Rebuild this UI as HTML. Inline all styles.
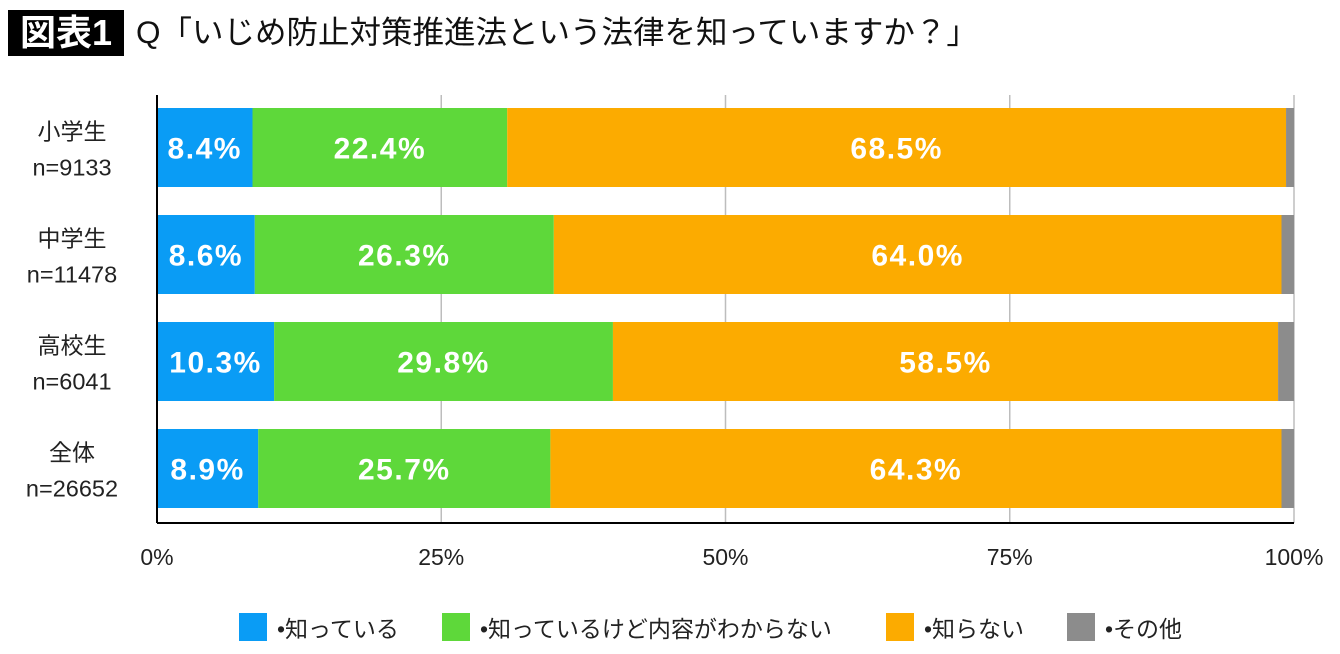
<!DOCTYPE html>
<html><head><meta charset="utf-8"><style>
body{margin:0;width:1340px;height:654px;background:#fff;overflow:hidden;font-family:"Liberation Sans","Noto Sans CJK JP",sans-serif}
#t{position:absolute;left:8px;top:10px;width:116px;height:46px;background:#000;color:#fff;font-size:36px;line-height:46px;text-align:center;font-weight:bold}
#q{position:absolute;left:136px;top:9px;font-size:31.5px;line-height:46px;color:#111;white-space:nowrap}
</style></head><body>
<div id="t">図表1</div>
<div id="q">Q「いじめ防止対策推進法という法律を知っていますか？」</div>
<svg id="c" width="1340" height="654" style="position:absolute;left:0;top:0"></svg>
<script>
const categories=["小学生","中学生","高校生","全体"];
const sampleSizes=["n=9133","n=11478","n=6041","n=26652"];
const know=[8.4,8.6,10.3,8.9];
const knowNoDetail=[22.4,26.3,29.8,25.7];
const dontKnow=[68.5,64.0,58.5,64.3];
const other=[0.7,1.1,1.4,1.1];
const ticks=[0,25,50,75,100];
const tickLabels=["0%","25%","50%","75%","100%"];
const seriesNames=["•知っている","•知っているけど内容がわからない","•知らない","•その他"];
const colors=["#0a9cf5","#5ed83a","#fcab00","#8c8c8c"];
const NS="http://www.w3.org/2000/svg",svg=document.getElementById('c');
const x0=157,x1=1294,y0=95,y1=523;
const X=v=>x0+(x1-x0)*v/100;
const bandH=(y1-y0)/categories.length;
function el(t,a,p){const e=document.createElementNS(NS,t);for(const k in a)e.setAttribute(k,a[k]);(p||svg).appendChild(e);return e;}
ticks.forEach((t,i)=>{if(t>0){const g=el('line',{x1:X(t),x2:X(t),y1:y0,y2:y1,stroke:'#bdbdbd','stroke-width':1.5});

}
const l=el('text',{x:X(t),y:565,'text-anchor':'middle','font-size':23,fill:'#222'});l.textContent=tickLabels[i];

});
const series=[know,knowNoDetail,dontKnow,other];
categories.forEach((c,i)=>{const yt=y0+bandH*i+13,h=bandH-28;let acc=0;
series.forEach((s,j)=>{const v=s[i];const r=el('rect',{x:X(acc),y:yt,width:X(acc+v)-X(acc),height:h,fill:colors[j]});


if(j<3){const tx=el('text',{x:(X(acc)+X(acc+v))/2,y:yt+h/2+11,'text-anchor':'middle','font-size':30,'font-weight':'bold','letter-spacing':'1.5',fill:'#fff'});tx.textContent=v.toFixed(1)+'%';

}
acc+=v;});
const a=el('text',{x:72,y:yt+h/2-8,'text-anchor':'middle','font-size':23,fill:'#222'});a.textContent=c;


const b=el('text',{x:72,y:yt+h/2+28,'text-anchor':'middle','font-size':23.5,fill:'#222'});b.textContent=sampleSizes[i];

});
const ax=el('line',{x1:x0,x2:x0,y1:y0,y2:y1,stroke:'#000','stroke-width':2});


const bx=el('line',{x1:x0,x2:x1,y1:y1,y2:y1,stroke:'#000','stroke-width':2});


const lx=[239,442,886,1067];
seriesNames.forEach((n,j)=>{const r=el('rect',{x:lx[j],y:613,width:28,height:28,fill:colors[j]});


const t=el('text',{x:lx[j]+38,y:637,'font-size':23,fill:'#222'});t.textContent=n;

});
</script>
</body></html>
